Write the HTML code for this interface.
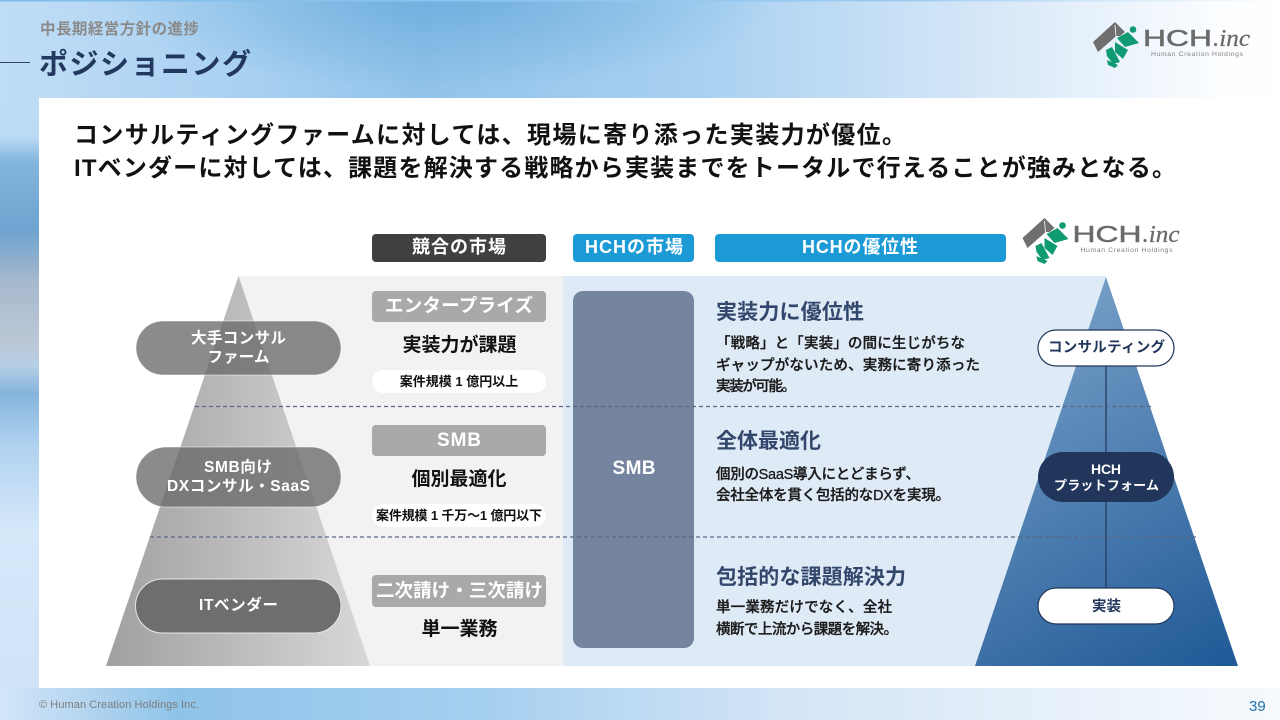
<!DOCTYPE html>
<html lang="ja">
<head>
<meta charset="utf-8">
<title>ポジショニング</title>
<style>
html,body{margin:0;padding:0;background:#fff;width:1280px;height:720px;overflow:hidden}
svg{display:block}
text{font-family:"Liberation Sans","Noto Sans CJK JP",sans-serif;font-weight:700}
.m{text-anchor:middle}
.w{fill:#fff}
.b{font-weight:500;font-size:14.5px;fill:#1a1a1a;stroke:#1a1a1a;stroke-width:.3px}
</style>
</head>
<body>
<svg width="1280" height="720" viewBox="0 0 1280 720" xmlns="http://www.w3.org/2000/svg">
<defs>
<linearGradient id="top" x1="0" y1="0" x2="1" y2="0">
<stop offset="0" stop-color="#c0ddf6"/><stop offset=".2" stop-color="#a8d0f1"/><stop offset=".33" stop-color="#92c3ea"/><stop offset=".55" stop-color="#a9d1f1"/><stop offset=".78" stop-color="#d8e8f8"/><stop offset=".95" stop-color="#fbfdff"/><stop offset="1" stop-color="#fff"/>
</linearGradient>
<radialGradient id="topd" gradientUnits="userSpaceOnUse" cx="0" cy="0" r="1" gradientTransform="translate(440 -5) scale(340 95)">
<stop offset="0" stop-color="#5fa6d8" stop-opacity=".7"/><stop offset="1" stop-color="#5fa6d8" stop-opacity="0"/>
</radialGradient>
<linearGradient id="edge" x1="0" y1="0" x2="1" y2="0">
<stop offset="0" stop-color="#7fbcea"/><stop offset=".7" stop-color="#9bcbf0"/><stop offset="1" stop-color="#ffffff"/>
</linearGradient>
<linearGradient id="bot" x1="0" y1="0" x2="1" y2="0">
<stop offset="0" stop-color="#d2e6f9"/><stop offset=".05" stop-color="#bcd9f2"/><stop offset=".14" stop-color="#8fc3e8"/><stop offset=".38" stop-color="#a6d0f0"/><stop offset=".62" stop-color="#d5e5f6"/><stop offset="1" stop-color="#f6fafd"/>
</linearGradient>
<linearGradient id="left" gradientUnits="userSpaceOnUse" x1="0" y1="0" x2="0" y2="720">
<stop offset="0" stop-color="#c0ddf6"/><stop offset=".19" stop-color="#bcdbf5"/><stop offset=".224" stop-color="#82b6de"/><stop offset=".32" stop-color="#6ea3cf"/><stop offset=".394" stop-color="#a8b9ce"/><stop offset=".479" stop-color="#bcc8d6"/><stop offset=".508" stop-color="#b5cfe6"/><stop offset=".547" stop-color="#86b4dc"/><stop offset=".62" stop-color="#b0d2f0"/><stop offset=".735" stop-color="#d5e8fa"/><stop offset="1" stop-color="#cfe2f6"/>
</linearGradient>
<linearGradient id="gp" x1="0" y1="0" x2="1" y2="0">
<stop offset="0" stop-color="#a0a0a0"/><stop offset="1" stop-color="#d8d8d8"/>
</linearGradient>
<linearGradient id="bp" gradientUnits="userSpaceOnUse" x1="1010" y1="290" x2="1230" y2="670">
<stop offset="0" stop-color="#7ca3ca"/><stop offset="1" stop-color="#1f5996"/>
</linearGradient>
<g id="logo">
<polygon points="22,0 0,20 5,30 21,16 23,14 27,14 32,10" fill="#6f6f6f"/>
<line x1="22" y1="3" x2="23" y2="14" stroke="#fff" stroke-width=".8"/>
<circle cx="40" cy="7.500" r="3.300" fill="#0f9a72"/>
<polygon points="24,16 35,10 46,21 32,25" fill="#0f9a72"/>
<polygon points="22,20 35,28 30,37 22,30" fill="#0f9a72"/>
<polygon points="13,28 19,25 27,40 20,42 14,34" fill="#0f9a72"/>
<polygon points="14,38 25,43 22,46 15,43" fill="#0f9a72"/>
<text x="50" y="24" font-size="23" style="font-weight:400;fill:#6b6b6b;stroke:#6b6b6b;stroke-width:.5px;font-family:'Liberation Sans',sans-serif" textLength="69" lengthAdjust="spacingAndGlyphs">HCH</text>
<text x="120" y="24" font-size="24" style="font-weight:400;font-style:italic;fill:#6b6b6b;stroke:#6b6b6b;stroke-width:.3px;font-family:'Liberation Serif',serif" textLength="37" lengthAdjust="spacingAndGlyphs">.inc</text>
<text x="58" y="34" font-size="6.800" style="font-weight:400;fill:#808080;font-family:'Liberation Sans',sans-serif" textLength="92">Human Creation Holdings</text>
</g>
</defs>

<!-- background -->
<rect width="1280" height="720" fill="#fff"/>
<rect x="0" y="0" width="1280" height="98" fill="url(#top)"/>
<rect x="0" y="0" width="1280" height="98" fill="url(#topd)"/>
<rect x="0" y="0" width="1280" height="1.500" fill="url(#edge)"/>
<rect x="0" y="98" width="39" height="622" fill="url(#left)"/>
<rect x="0" y="688" width="1280" height="32" fill="url(#bot)"/>
<rect x="39" y="98" width="1241" height="590" fill="#fff"/>

<!-- header -->
<text x="40" y="34" font-size="15.500" fill="#8a8a8a" textLength="159">中長期経営方針の進捗</text>
<rect x="0" y="62" width="30" height="1" fill="#2b4468"/>
<text x="39" y="74" font-size="29" fill="#22385f" textLength="212">ポジショニング</text>
<use href="#logo" x="1093" y="22"/>

<!-- headline -->
<text x="74" y="143" font-size="24" fill="#111" textLength="832">コンサルティングファームに対しては、現場に寄り添った実装力が優位。</text>
<text x="74" y="176" font-size="24" fill="#111" textLength="1102">ITベンダーに対しては、課題を解決する戦略から実装までをトータルで行えることが強みとなる。</text>

<!-- panels -->
<rect x="238" y="276" width="325" height="390" fill="#f2f2f2"/>
<rect x="563" y="276" width="543" height="390" fill="#deeaf6"/>
<polygon points="238.500,276 106,666 370,666" fill="url(#gp)"/>
<polygon points="1106,277 975,666 1238,666" fill="url(#bp)"/>

<!-- column headers -->
<rect x="372" y="234" width="174" height="28" rx="4" fill="#404040"/>
<text class="m w" x="459" y="253" font-size="18" textLength="94">競合の市場</text>
<rect x="573" y="234" width="121" height="28" rx="4" fill="#1b9ad6"/>
<text class="m w" x="634" y="253" font-size="18" textLength="98">HCHの市場</text>
<rect x="715" y="234" width="291" height="28" rx="4" fill="#1b9ad6"/>
<text class="m w" x="860" y="253" font-size="18" textLength="116">HCHの優位性</text>
<use href="#logo" x="1022.500" y="218"/>

<!-- SMB column -->
<rect x="573" y="291" width="121" height="357" rx="10" fill="#7585a0"/>
<text class="m w" x="634" y="474" font-size="19" textLength="43">SMB</text>

<!-- dashed lines -->
<line x1="195" y1="406.500" x2="1152" y2="406.500" stroke="#5a6785" stroke-width="1.200" stroke-dasharray="4 3"/>
<line x1="150" y1="537" x2="1196" y2="537" stroke="#5a6785" stroke-width="1.200" stroke-dasharray="4 3"/>

<!-- left pills -->
<rect x="136" y="321" width="205" height="54" rx="27" fill="#6a6a6a" fill-opacity=".78" stroke="#fff" stroke-opacity=".5" stroke-width="1"/>
<text class="m w" x="238.500" y="343" font-size="15.500" textLength="95">大手コンサル</text>
<text class="m w" x="238.500" y="362" font-size="15.500" textLength="62">ファーム</text>
<rect x="136" y="447" width="205" height="60" rx="30" fill="#6a6a6a" fill-opacity=".78" stroke="#fff" stroke-opacity=".5" stroke-width="1"/>
<text class="m w" x="238" y="472" font-size="15.500" textLength="68">SMB向け</text>
<text class="m w" x="238.500" y="491" font-size="15.500" textLength="143">DXコンサル・SaaS</text>
<rect x="135.500" y="579" width="205.500" height="54" rx="27" fill="#6e6e6e" stroke="#e8e8e8" stroke-width="1"/>
<text class="m w" x="238.500" y="610" font-size="15.500" textLength="79">ITベンダー</text>

<!-- competitor column -->
<rect x="372" y="291" width="174" height="31" rx="4" fill="#a9a9a9"/>
<text class="m w" x="459" y="312" font-size="18.500" textLength="148">エンタープライズ</text>
<text class="m" x="459.500" y="351" font-size="19" fill="#111">実装力が課題</text>
<rect x="372" y="370" width="174" height="23" rx="11.500" fill="#fff"/>
<text class="m" x="459" y="386" font-size="13" fill="#111">案件規模 1 億円以上</text>

<rect x="372" y="425" width="174" height="31" rx="4" fill="#a9a9a9"/>
<text class="m w" x="459" y="446" font-size="19" textLength="44">SMB</text>
<text class="m" x="459" y="485" font-size="19" fill="#111">個別最適化</text>
<rect x="372" y="504" width="174" height="23" rx="11.500" fill="#fff"/>
<text class="m" x="459" y="520" font-size="13" fill="#111" textLength="166">案件規模 1 千万～1 億円以下</text>

<rect x="372" y="575" width="174" height="32" rx="4" fill="#a9a9a9"/>
<text class="m w" x="459.500" y="597" font-size="18.500" textLength="167">二次請け・三次請け</text>
<text class="m" x="459.500" y="635" font-size="19" fill="#111">単一業務</text>

<!-- advantages -->
<text x="716" y="319" font-size="21" fill="#32476b" textLength="148">実装力に優位性</text>
<text class="b" x="716" y="348" textLength="249">「戦略」と「実装」の間に生じがちな</text>
<text class="b" x="716" y="370" textLength="264">ギャップがないため、実務に寄り添った</text>
<text class="b" x="716" y="391" textLength="80">実装が可能。</text>

<text x="716" y="448" font-size="21" fill="#32476b" textLength="105">全体最適化</text>
<text class="b" x="716" y="479" textLength="204">個別のSaaS導入にとどまらず、</text>
<text class="b" x="716" y="500" textLength="234">会社全体を貫く包括的なDXを実現。</text>

<text x="716" y="584" font-size="21" fill="#32476b" textLength="190">包括的な課題解決力</text>
<text class="b" x="716" y="612" textLength="176">単一業務だけでなく、全社</text>
<text class="b" x="716" y="634" textLength="182">横断で上流から課題を解決。</text>

<!-- right pyramid labels -->
<line x1="1106" y1="366" x2="1106" y2="588" stroke="#22365c" stroke-width="1.200"/>
<rect x="1038" y="330" width="136" height="36" rx="18" fill="#fff" stroke="#22365c" stroke-width="1.200"/>
<text class="m" x="1106.500" y="352" font-size="14.500" fill="#22365c" textLength="117">コンサルティング</text>
<rect x="1038" y="452" width="136" height="50" rx="25" fill="#22365c"/>
<text class="m w" x="1106" y="474" font-size="14" textLength="30">HCH</text>
<text class="m w" x="1106.500" y="490" font-size="13" textLength="105">プラットフォーム</text>
<rect x="1038" y="588" width="136" height="36" rx="18" fill="#fff" stroke="#22365c" stroke-width="1.200"/>
<text class="m" x="1106.500" y="611" font-size="14.500" fill="#22365c">実装</text>

<!-- footer -->
<text x="39" y="708" font-size="11" fill="#7d7d7d" style="font-weight:400" textLength="160">© Human Creation Holdings Inc.</text>
<text x="1249" y="711" font-size="15" fill="#1f6fa8" style="font-weight:400">39</text>
</svg>
</body>
</html>
